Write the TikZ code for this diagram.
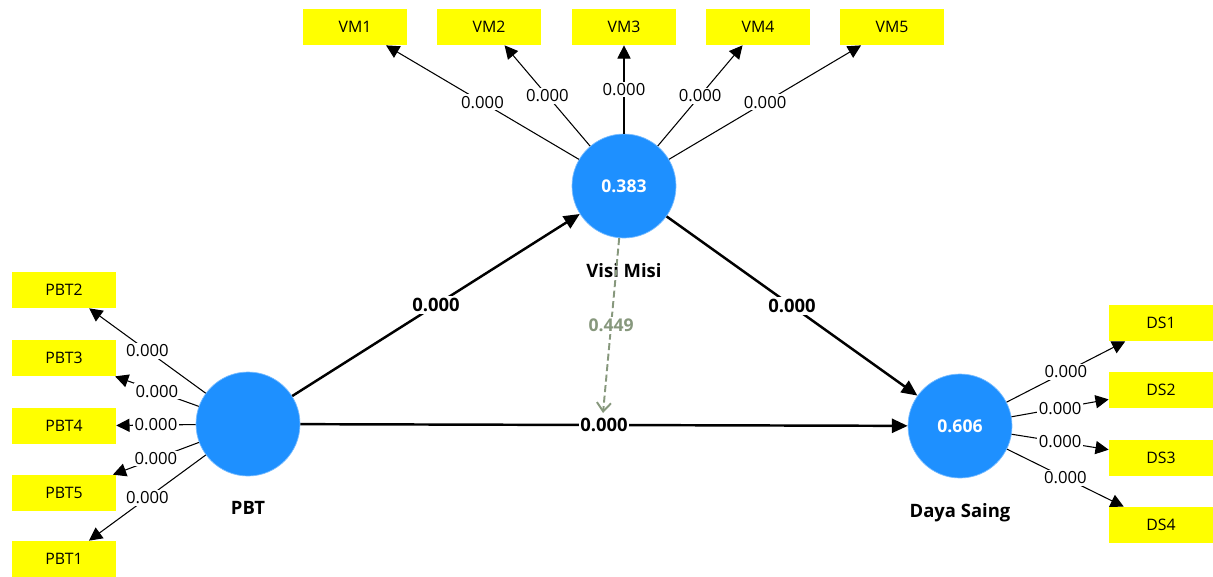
\documentclass[tikz,border=0pt]{standalone}
\usepackage{fontspec}
\setmainfont{Open Sans}
\usetikzlibrary{arrows.meta,positioning}
\definecolor{latent}{RGB}{30,144,255}
\definecolor{indic}{RGB}{255,255,0}
\definecolor{modcol}{RGB}{135,152,125}

\begin{document}
\begin{tikzpicture}[x=0.02cm, y=-0.02cm,
    lv/.style={circle,fill=latent,draw=latent!60,minimum size=2.08cm,inner sep=0pt,text=white,font=\fontsize{10}{11}\selectfont\bfseries},
    mv/.style={rectangle,fill=indic,minimum width=2.08cm,minimum height=0.72cm,inner sep=0pt,font=\fontsize{9}{10}\selectfont},
    load/.style={line width=0.6pt,-{Triangle[length=7.5pt,width=7.5pt]}},
    pth/.style={line width=1.4pt,-{Triangle[length=9pt,width=8pt]}},
    wt/.style={fill=white,inner sep=1pt,font=\fontsize{9.5}{10}\selectfont},
    pwt/.style={fill=white,inner sep=1pt,font=\fontsize{10.5}{11}\selectfont\bfseries},
    lvname/.style={font=\fontsize{10.5}{11}\selectfont\bfseries,yshift=-0.38cm},
    moder/.style={draw=modcol,dash pattern=on 4pt off 2pt,line width=1.1pt,-{Straight Barb[length=5pt,width=8pt]}}]
  \useasboundingbox (0,0) rectangle (1213,576);

  % latent variables
  \node[lv,label={[lvname]below:PBT}] (pbt) at (248,424) {};
  \node[lv,label={[lvname]below:Visi Misi}] (vm) at (624,186) {0.383};
  \node[lv,label={[lvname]below:Daya Saing}] (ds) at (960,426) {0.606};

  % indicators
  \node[mv] (vm1) at (355,27) {VM1};
  \node[mv] (vm2) at (489,27) {VM2};
  \node[mv] (vm3) at (624,27) {VM3};
  \node[mv] (vm4) at (758,27) {VM4};
  \node[mv] (vm5) at (892,27) {VM5};

  \node[mv] (pbt2) at (64,290) {PBT2};
  \node[mv] (pbt3) at (64,358) {PBT3};
  \node[mv] (pbt4) at (64,426) {PBT4};
  \node[mv] (pbt5) at (64,493) {PBT5};
  \node[mv] (pbt1) at (64,559) {PBT1};

  \node[mv] (ds1) at (1161,323) {DS1};
  \node[mv] (ds2) at (1161,390) {DS2};
  \node[mv] (ds3) at (1161,458) {DS3};
  \node[mv] (ds4) at (1161,525) {DS4};

  % outer loadings
  \draw[load] (vm) -- node[wt] {0.000} (vm1);
  \draw[load] (vm) -- node[wt] {0.000} (vm2);
  \draw[load] (vm) -- node[wt] {0.000} (vm3);
  \draw[load] (vm) -- node[wt] {0.000} (vm4);
  \draw[load] (vm) -- node[wt] {0.000} (vm5);

  \draw[load] (pbt) -- node[wt] {0.000} (pbt2);
  \draw[load] (pbt) -- node[wt] {0.000} (pbt3);
  \draw[load] (pbt) -- node[wt] {0.000} (pbt4);
  \draw[load] (pbt) -- node[wt] {0.000} (pbt5);
  \draw[load] (pbt) -- node[wt] {0.000} (pbt1);

  \draw[load] (ds) -- node[wt] {0.000} (ds1);
  \draw[load] (ds) -- node[wt] {0.000} (ds2);
  \draw[load] (ds) -- node[wt] {0.000} (ds3);
  \draw[load] (ds) -- node[wt] {0.000} (ds4);

  % inner paths
  \draw[pth] (pbt) -- node[pwt] {0.000} (vm);
  \draw[pth] (vm) -- node[pwt] {0.000} (ds);
  \draw[pth] (pbt) -- node[pwt,pos=0.5] {0.000} (ds);

  % moderating effect
  \coordinate (modend) at (603,413);
  \draw[moder] (vm) -- node[fill=white,inner sep=1pt,text=modcol,font=\fontsize{10}{11}\selectfont\bfseries] {0.449} (modend);
\end{tikzpicture}
\end{document}
